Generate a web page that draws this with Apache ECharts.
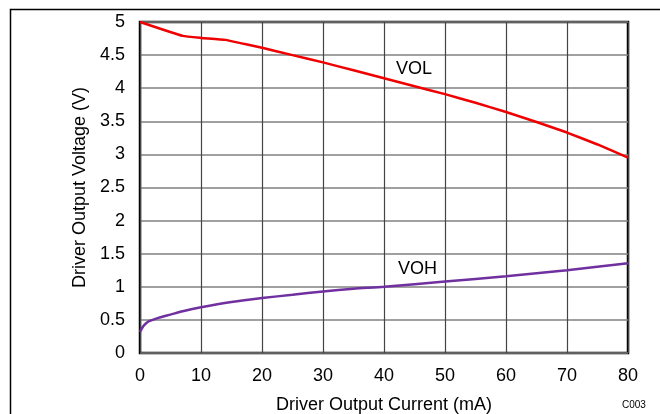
<!DOCTYPE html>
<html>
<head>
<meta charset="utf-8">
<script src="https://cdn.jsdelivr.net/npm/echarts@6/dist/echarts.min.js"></script>
<style>
html,body{margin:0;padding:0;background:#fff;}
#chart{width:660px;height:414px;}
</style>
</head>
<body>
<div id="chart"></div>
<script>
var xTicks = [0, 10, 20, 30, 40, 50, 60, 70, 80];
var yTicks = [0, 0.5, 1, 1.5, 2, 2.5, 3, 3.5, 4, 4.5, 5];
var volCurrent = [0, 7, 10, 14, 17, 20, 25, 30, 35, 40, 45, 50, 55, 60, 65, 70, 75, 80];
var volVoltage = [5, 4.79, 4.76, 4.73, 4.67, 4.61, 4.5, 4.39, 4.27, 4.15, 4.03, 3.91, 3.78, 3.64, 3.49, 3.33, 3.15, 2.95];
var vohCurrent = [0, 0.5, 1, 1.5, 3, 5, 7, 10, 15, 20, 25, 30, 35, 40, 50, 60, 70, 80];
var vohVoltage = [0.32, 0.4, 0.45, 0.48, 0.53, 0.58, 0.63, 0.69, 0.77, 0.83, 0.88, 0.93, 0.97, 1.0, 1.08, 1.16, 1.25, 1.355];

function pairs(xs, ys){ return xs.map(function(x,i){ return [x, ys[i]]; }); }

var font = 'Liberation Sans, Arial, sans-serif';
var chart = echarts.init(document.getElementById('chart'));
chart.setOption({
  animation: false,
  backgroundColor: '#fff',
  grid: {left: 140, right: 32, top: 22, bottom: 61, containLabel: false, outerBoundsMode: 'none',
         show: true, borderColor: '#000', borderWidth: 2.5, backgroundColor: 'transparent'},
  xAxis: {
    type: 'value', min: 0, max: 80, interval: 10,
    name: 'Driver Output Current (mA)', nameLocation: 'middle', nameGap: 43,
    nameTextStyle: {fontFamily: font, fontSize: 18, color: '#000'},
    axisLine: {show: false}, axisTick: {show: false},
    axisLabel: {fontFamily: font, fontSize: 18, color: '#000', margin: 14},
    splitLine: {show: true, lineStyle: {color: '#444', width: 1.2}}
  },
  yAxis: {
    type: 'value', min: 0, max: 5, interval: 0.5,
    name: 'Driver Output Voltage (V)', nameLocation: 'middle', nameGap: 46,
    nameTextStyle: {fontFamily: font, fontSize: 18, color: '#000'},
    axisLine: {show: false}, axisTick: {show: false},
    axisLabel: {fontFamily: font, fontSize: 18, color: '#000', margin: 15},
    splitLine: {show: true, lineStyle: {color: '#808080', width: 1.5}}
  },
  series: [
    {type: 'line', name: 'VOL', data: pairs(volCurrent, volVoltage), smooth: 0.12, showSymbol: false,
     lineStyle: {color: '#f00000', width: 2.5}, z: 3},
    {type: 'line', name: 'VOH', data: pairs(vohCurrent, vohVoltage), smooth: 0.25, showSymbol: false,
     lineStyle: {color: '#7030a0', width: 2.5}, z: 3}
  ],
  graphic: [
    {type: 'rect', left: 8, top: 7, shape: {width: 700, height: 500}, style: {fill: 'none', stroke: '#000', lineWidth: 1.5}, z: 0},
    {type: 'text', left: 396, top: 60, style: {text: 'VOL', font: '18px ' + font, fill: '#000'}, z: 10},
    {type: 'text', left: 398, top: 260, style: {text: 'VOH', font: '18px ' + font, fill: '#000'}, z: 10},
    {type: 'text', left: 622, top: 400, style: {text: 'C003', font: '10px ' + font, fill: '#000'}, z: 10}
  ]
});
</script>
</body>
</html>
